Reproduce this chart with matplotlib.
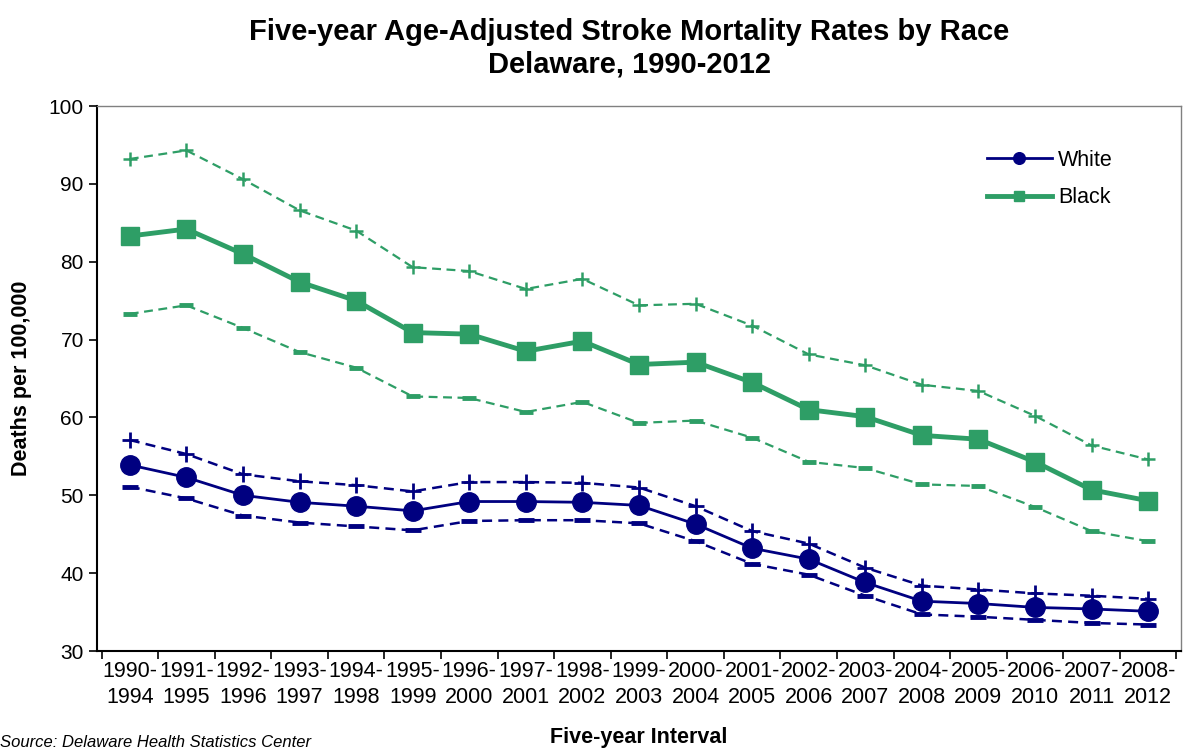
import matplotlib
matplotlib.use('Agg')
import matplotlib.pyplot as plt

plt.rcParams['font.family'] = ['Liberation Sans', 'DejaVu Sans']

# Data
intervals = ['1990-\n1994', '1991-\n1995', '1992-\n1996', '1993-\n1997', '1994-\n1998',
             '1995-\n1999', '1996-\n2000', '1997-\n2001', '1998-\n2002', '1999-\n2003',
             '2000-\n2004', '2001-\n2005', '2002-\n2006', '2003-\n2007', '2004-\n2008',
             '2005-\n2009', '2006-\n2010', '2007-\n2011', '2008-\n2012']

white = [53.9, 52.3, 50.0, 49.1, 48.6, 48.0, 49.2, 49.2, 49.1, 48.7,
         46.3, 43.2, 41.8, 38.8, 36.4, 36.1, 35.6, 35.4, 35.1]
white_upper = [57.1, 55.3, 52.7, 51.8, 51.3, 50.5, 51.7, 51.7, 51.6, 51.0,
               48.6, 45.4, 43.8, 40.7, 38.4, 37.9, 37.4, 37.1, 36.7]
white_lower = [51.1, 49.6, 47.4, 46.5, 46.0, 45.5, 46.7, 46.8, 46.8, 46.4,
               44.1, 41.2, 39.8, 37.1, 34.7, 34.4, 34.0, 33.6, 33.4]

black = [83.3, 84.2, 81.0, 77.4, 75.0, 70.9, 70.7, 68.5, 69.8, 66.8,
         67.1, 64.5, 61.0, 60.1, 57.7, 57.2, 54.3, 50.7, 49.3]
black_upper = [93.2, 94.3, 90.6, 86.6, 84.0, 79.3, 78.8, 76.5, 77.8, 74.4,
               74.6, 71.8, 68.1, 66.7, 64.2, 63.4, 60.2, 56.4, 54.6]
black_lower = [73.3, 74.4, 71.5, 68.4, 66.4, 62.7, 62.5, 60.7, 62.0, 59.3,
               59.6, 57.4, 54.3, 53.5, 51.4, 51.2, 48.5, 45.4, 44.1]

navy = '#000080'
green = '#2E9E66'

fig = plt.figure(figsize=(11.9, 7.52), dpi=100)
ax = fig.add_axes([0.0815, 0.1343, 0.9109, 0.7247])

x = list(range(len(intervals)))

# confidence bounds
ax.plot(x, black_upper, '--', color=green, lw=1.6, marker='+', ms=10, mew=1.8, dashes=(4, 2.5))
ax.plot(x, black_lower, '--', color=green, lw=1.6, marker='_', ms=10, mew=3.5, dashes=(4, 2.5))
ax.plot(x, white_upper, '--', color=navy, lw=1.8, marker='+', ms=11, mew=2.0, dashes=(4, 2.5))
ax.plot(x, white_lower, '--', color=navy, lw=1.8, marker='_', ms=11, mew=3.5, dashes=(4, 2.5))

# rates
ax.plot(x, white, '-', color=navy, lw=2, marker='o', ms=14, label='White')
ax.plot(x, black, '-', color=green, lw=3.5, marker='s', ms=13, label='Black')

ax.set_xlim(-0.58, len(intervals) - 0.42)
ax.set_ylim(30, 100)
ax.set_yticks(range(30, 101, 10))
ax.set_xticks(x)
ax.set_xticklabels(intervals, fontsize=15.5, linespacing=1.3)
ax.set_xticks([i + 0.5 for i in range(-1, len(intervals))], minor=True)
ax.tick_params(axis='x', which='major', length=0, pad=7)
ax.tick_params(axis='x', which='minor', length=6, width=1.2, direction='out')
ax.tick_params(axis='y', labelsize=15, length=6, width=1.2, direction='out')

for side in ['top', 'right']:
    ax.spines[side].set_color('#808080')
    ax.spines[side].set_linewidth(1)
for side in ['left', 'bottom']:
    ax.spines[side].set_color('black')
    ax.spines[side].set_linewidth(1.5)

ax.set_ylabel('Deaths per 100,000', fontsize=15.5, fontweight='bold', labelpad=12)
ax.set_xlabel('Five-year Interval', fontsize=15.5, fontweight='bold', labelpad=14)

leg = ax.legend(loc='upper right', bbox_to_anchor=(0.955, 0.955), frameon=False,
                fontsize=15.5, handlelength=3.0, markerscale=0.6, labelspacing=0.75,
                handletextpad=0.3)

fig.suptitle('Five-year Age-Adjusted Stroke Mortality Rates by Race\nDelaware, 1990-2012',
             x=0.529, y=0.976, fontsize=21, fontweight='bold', linespacing=1.2)

fig.text(0.0, 0.002, 'Source: Delaware Health Statistics Center', fontsize=12,
         style='italic', va='bottom')

fig.savefig('out.png', dpi=100, facecolor='white')
